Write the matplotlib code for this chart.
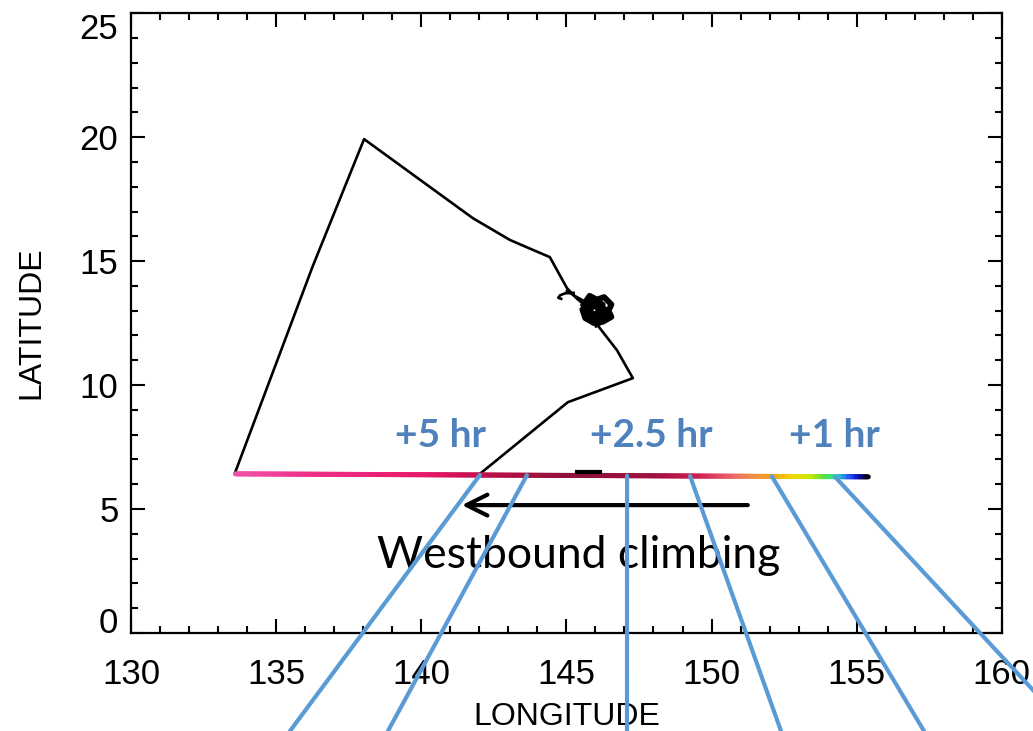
import numpy as np
import matplotlib
matplotlib.use("Agg")
import matplotlib.pyplot as plt
from matplotlib.collections import LineCollection
from matplotlib.colors import LinearSegmentedColormap
from matplotlib.ticker import MultipleLocator

# flight track (lon, lat), west end -> north corner -> orbit entry
track_lon = [133.58, 136.25, 138.03, 141.78, 143.06, 144.43, 145.02, 145.35, 145.60]
track_lat = [6.45, 14.76, 19.92, 16.73, 15.85, 15.16, 13.91, 13.50, 13.25]
# second pass into the orbit
entry_lon = [145.02, 145.25, 145.75]
entry_lat = [13.80, 13.62, 13.30]
# tight orbit north of the leg
orbit_lon = [145.60, 145.80, 146.05, 146.30, 146.55, 146.45, 146.55, 146.25,
             145.95, 145.65, 145.55, 145.85, 146.15, 146.40, 146.10, 145.75,
             145.90, 146.30, 146.15, 145.80, 146.00, 146.25, 145.95, 145.70,
             146.00, 146.05]
orbit_lat = [13.25, 13.60, 13.45, 13.55, 13.25, 13.00, 12.75, 12.55,
             12.50, 12.70, 13.05, 13.35, 13.30, 12.90, 12.65, 12.85,
             13.20, 13.05, 12.70, 12.95, 12.80, 13.25, 13.40, 13.00,
             12.60, 12.45]
# return leg from the orbit down to the westbound leg
back_lon = [146.05, 146.74, 147.29, 145.05, 142.02]
back_lat = [12.45, 11.41, 10.28, 9.31, 6.42]
hook_lon = [145.25, 144.95, 144.78, 144.72, 144.82]
hook_lat = [13.72, 13.70, 13.62, 13.52, 13.48]
dash_lon = [145.35, 146.15]
dash_lat = [6.50, 6.50]

# westbound climbing leg, east end to west end
leg_lon = [155.40, 133.60]
leg_lat = [6.30, 6.42]

# colour along the leg by longitude
stop_lon = [133.6, 136.0, 140.0, 142.0, 145.0, 148.0, 149.5, 150.5, 151.3,
            152.0, 152.8, 153.4, 153.9, 154.3, 154.7, 155.0, 155.4]
stop_col = ['#f050a8', '#f03088', '#e8186a', '#c0104a', '#901038', '#a01040',
            '#d02050', '#e85a6a', '#f08a50', '#f0a020', '#f0d800', '#c8e800',
            '#50e040', '#20e0c0', '#2060ff', '#1010d0', '#000000']

# time marks along the leg
mark_text = ['+5 hr', '+2.5 hr', '+1 hr']
mark_lon = [140.68, 147.91, 154.25]
mark_lat = 7.98

# connector lines: start on the leg, end below the frame (figure pixels)
link_lon = [142.02, 143.64, 147.09, 149.26, 152.08, 154.25]
link_end_px = [290, 388, 627, 781, 924, 1071]

arrow_from = (151.25, 5.16)
arrow_to = (141.40, 5.16)

blue_txt = '#4f81bd'
blue_line = '#5b9bd5'

fig = plt.figure(figsize=(10.33, 7.31), dpi=100)
ax = fig.add_axes([0.1268, 0.134, 0.843, 0.848])

ax.plot(track_lon, track_lat, color='black', lw=1.9, zorder=3)
ax.plot(entry_lon, entry_lat, color='black', lw=1.9, zorder=3)
ax.plot(orbit_lon, orbit_lat, color='black', lw=4.2, zorder=3)
ax.plot(back_lon, back_lat, color='black', lw=1.9, zorder=3)
ax.plot(hook_lon, hook_lat, color='black', lw=1.9, zorder=3)
ax.plot(dash_lon, dash_lat, color='black', lw=3, zorder=5)

# coloured leg as a gradient line
cmap = LinearSegmentedColormap.from_list(
    'leg', list(zip([(v - stop_lon[0]) / (stop_lon[-1] - stop_lon[0]) for v in stop_lon], stop_col)))
t = np.linspace(0, 1, 400)
xs = leg_lon[0] + (leg_lon[1] - leg_lon[0]) * t
ys = leg_lat[0] + (leg_lat[1] - leg_lat[0]) * t
pts = np.column_stack([xs, ys]).reshape(-1, 1, 2)
segs = np.concatenate([pts[:-1], pts[1:]], axis=1)
lc = LineCollection(segs, cmap=cmap, linewidths=3.6, zorder=4, capstyle='round')
lc.set_array((xs[:-1] - stop_lon[0]) / (stop_lon[-1] - stop_lon[0]))
lc.set_clim(0, 1)
ax.add_collection(lc)

ax.set_xlim(130, 160)
ax.set_ylim(0, 25)
ax.xaxis.set_major_locator(MultipleLocator(5))
ax.xaxis.set_minor_locator(MultipleLocator(1))
ax.yaxis.set_major_locator(MultipleLocator(5))
ax.yaxis.set_minor_locator(MultipleLocator(1))
ax.tick_params(which='both', direction='in', top=True, right=True, width=1.5)
ax.tick_params(which='major', length=10)
ax.tick_params(which='minor', length=5)
ax.tick_params(axis='x', pad=18)
ax.tick_params(axis='y', pad=9)
fig.canvas.draw()
for lab in ax.get_xticklabels() + ax.get_yticklabels():
    lab.set_fontfamily('Liberation Sans')
    lab.set_fontsize(25)
# end labels on the y axis sit inside the frame height
for lab in ax.get_yticklabels():
    if lab.get_text() == '0':
        lab.set_verticalalignment('baseline')
    elif lab.get_text() == '25':
        lab.set_verticalalignment('top')
for sp in ax.spines.values():
    sp.set_linewidth(1.6)

ax.set_xlabel('LONGITUDE', family='Liberation Sans', fontsize=23, labelpad=8)
ax.set_ylabel('LATITUDE', family='Liberation Sans', fontsize=23, labelpad=24)

for txt, lon in zip(mark_text, mark_lon):
    ax.text(lon, mark_lat, txt, color=blue_txt, family='Lato', fontweight='bold',
            fontsize=28, ha='center', va='center', zorder=6)

ax.annotate('', xy=arrow_to, xytext=arrow_from,
            arrowprops=dict(arrowstyle='->,head_length=1.5,head_width=0.75',
                            color='black', lw=3, shrinkA=0, shrinkB=0), zorder=6)
ax.text(145.43, 3.12, 'Westbound climbing', family='Lato', fontsize=32,
        ha='center', va='center', color='black', zorder=6)

for lon, px in zip(link_lon, link_end_px):
    lat = leg_lat[0] + (leg_lat[1] - leg_lat[0]) * (lon - leg_lon[0]) / (leg_lon[1] - leg_lon[0])
    ax.annotate('', xy=(lon, lat), xycoords='data', xytext=(px, 0),
                textcoords='figure pixels', annotation_clip=False,
                arrowprops=dict(arrowstyle='-', color=blue_line, lw=3,
                                shrinkA=0, shrinkB=0), zorder=10)

fig.savefig('out.png', dpi=100)
